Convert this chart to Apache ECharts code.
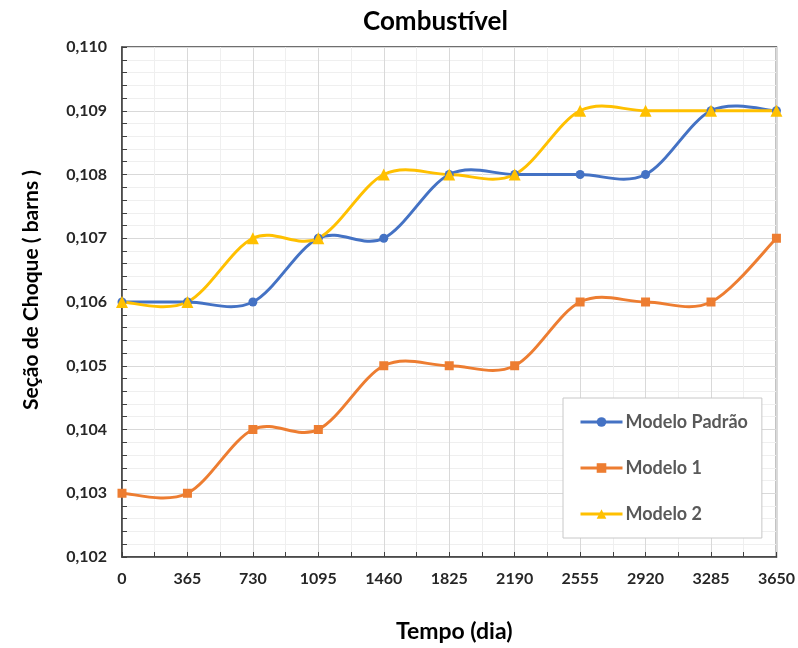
<!DOCTYPE html>
<html>
<head>
<meta charset="utf-8">
<script src="https://cdn.jsdelivr.net/npm/echarts@6/dist/echarts.min.js"></script>
<style>
  html, body { margin: 0; padding: 0; background: #ffffff; }
  #chart { width: 798px; height: 648px; }
</style>
</head>
<body>
<div id="chart"></div>
<script>
// Time in days
const days = [0, 365, 730, 1095, 1460, 1825, 2190, 2555, 2920, 3285, 3650];

// Cross section (barns) for each model
const modeloPadrao = [0.106, 0.106, 0.106, 0.107, 0.107, 0.108, 0.108, 0.108, 0.108, 0.109, 0.109];
const modelo1      = [0.103, 0.103, 0.104, 0.104, 0.105, 0.105, 0.105, 0.106, 0.106, 0.106, 0.107];
const modelo2      = [0.106, 0.106, 0.107, 0.107, 0.108, 0.108, 0.108, 0.109, 0.109, 0.109, 0.109];

const seriesNames = ['Modelo Padrão', 'Modelo 1', 'Modelo 2'];
const seriesColors = ['#4472C4', '#ED7D31', '#FFC000'];
const seriesSymbols = ['circle', 'rect', 'triangle'];
const seriesValues = [modeloPadrao, modelo1, modelo2];

const FONT = 'Lato, "Open Sans", sans-serif';

const chart = echarts.init(document.getElementById('chart'), null, { renderer: 'canvas' });

// Catmull-Rom style smoothing (spreadsheet-like): one cubic Bezier per segment,
// control points taken from the neighbouring points, all mapped through the axes.
function smoothSegmentRenderer(vals, color) {
  const n = days.length;
  return function (params, api) {
    const i = params.dataIndex;
    if (i >= n - 1) return null;
    const p0 = api.coord([days[Math.max(i - 1, 0)], vals[Math.max(i - 1, 0)]]);
    const p1 = api.coord([days[i], vals[i]]);
    const p2 = api.coord([days[i + 1], vals[i + 1]]);
    const p3 = api.coord([days[Math.min(i + 2, n - 1)], vals[Math.min(i + 2, n - 1)]]);
    return {
      type: 'bezierCurve',
      shape: {
        x1: p1[0], y1: p1[1],
        x2: p2[0], y2: p2[1],
        cpx1: p1[0] + (p2[0] - p0[0]) / 6,
        cpy1: p1[1] + (p2[1] - p0[1]) / 6,
        cpx2: p2[0] - (p3[0] - p1[0]) / 6,
        cpy2: p2[1] - (p3[1] - p1[1]) / 6
      },
      style: { stroke: color, lineWidth: 3, fill: null, lineCap: 'round' },
      silent: true
    };
  };
}

const series = [];
seriesValues.forEach((vals, i) => {
  // markers (and legend entry)
  series.push({
    name: seriesNames[i],
    type: 'line',
    data: days.map((d, k) => [d, vals[k]]),
    symbol: seriesSymbols[i],
    symbolSize: seriesSymbols[i] === 'triangle' ? 12 : 9,
    showAllSymbol: true,
    lineStyle: { color: seriesColors[i], width: 3, opacity: 0 },
    itemStyle: { color: seriesColors[i] },
    z: 4 + i,
    emphasis: { disabled: true }
  });
  // smoothed curve
  series.push({
    name: seriesNames[i],
    type: 'custom',
    coordinateSystem: 'cartesian2d',
    data: days.map((d, k) => [d, vals[k]]),
    encode: { x: 0, y: 1 },
    renderItem: smoothSegmentRenderer(vals, seriesColors[i]),
    z: 2 + i * 0.1,
    silent: true
  });
});

chart.setOption({
  animation: false,
  backgroundColor: '#ffffff',
  title: {
    text: 'Combustível',
    left: 358,
    top: 4,
    textStyle: { fontFamily: FONT, fontWeight: 'bold', fontSize: 26, color: '#000000' }
  },
  grid: {
    left: 122, right: 21, top: 47, bottom: 91,
    show: true,
    borderColor: '#404040',
    borderWidth: 1.5,
    containLabel: false
  },
  legend: {
    orient: 'vertical',
    left: 563,
    top: 398,
    padding: [13, 14, 13, 16],
    itemGap: 24,
    itemWidth: 42,
    itemHeight: 12,
    backgroundColor: '#ffffff',
    borderColor: '#c8c8c8',
    borderWidth: 1,
    borderRadius: 0,
    data: seriesNames.map((nm, i) => ({
      name: nm,
      lineStyle: { color: seriesColors[i], width: 3, opacity: 1 }
    })),
    textStyle: { fontFamily: FONT, fontWeight: 'bold', fontSize: 18, lineHeight: 22, color: '#595959', padding: [0, 0, 0, -2] }
  },
  xAxis: {
    type: 'value',
    min: 0,
    max: 3650,
    interval: 365,
    name: 'Tempo (dia)',
    nameLocation: 'middle',
    nameGap: 63,
    nameTextStyle: { fontFamily: FONT, fontWeight: 'bold', fontSize: 23, color: '#000000', padding: [0, 0, 0, 10] },
    axisLine: { show: true, lineStyle: { color: '#404040', width: 1.5 } },
    axisTick: { show: true, inside: true, length: 5, lineStyle: { color: '#404040' } },
    minorTick: { show: true, splitNumber: 2, length: 5, lineStyle: { color: '#404040' } },
    axisLabel: {
      margin: 14, fontFamily: FONT, fontWeight: 'bold', fontSize: 16, color: '#262626',
      formatter: v => String(v)
    },
    splitLine: { show: true, lineStyle: { color: '#d9d9d9', width: 1 } },
    minorSplitLine: { show: true, lineStyle: { color: '#efefef', width: 1 } }
  },
  yAxis: {
    type: 'value',
    min: 0.102,
    max: 0.110,
    interval: 0.001,
    name: 'Seção de Choque ( barns )',
    nameLocation: 'middle',
    nameGap: 80,
    nameTextStyle: { fontFamily: FONT, fontWeight: 'bold', fontSize: 21, color: '#000000', padding: [0, 0, 0, 24] },
    axisLine: { show: true, lineStyle: { color: '#404040', width: 1.5 } },
    axisTick: { show: true, inside: true, length: 5, lineStyle: { color: '#404040' } },
    minorTick: { show: true, splitNumber: 5, length: 5, lineStyle: { color: '#404040' } },
    axisLabel: {
      margin: 15,
      fontFamily: FONT, fontWeight: 'bold', fontSize: 16, color: '#262626',
      formatter: v => v.toFixed(3).replace('.', ',')
    },
    splitLine: { show: true, lineStyle: { color: '#d9d9d9', width: 1 } },
    minorSplitLine: { show: true, lineStyle: { color: '#efefef', width: 1 } }
  },
  series: series
});
</script>
</body>
</html>
